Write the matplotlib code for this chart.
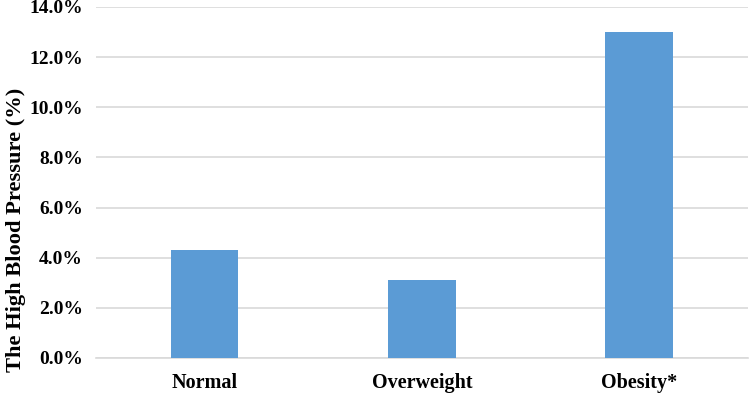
import matplotlib
matplotlib.use("Agg")
import matplotlib.pyplot as plt
from matplotlib.ticker import FuncFormatter

categories = ["Normal", "Overweight", "Obesity*"]
values = [4.3, 3.1, 13.0]
yticks = [0, 2, 4, 6, 8, 10, 12, 14]

plt.rcParams['font.family'] = ['Liberation Serif', 'DejaVu Serif']

fig = plt.figure(figsize=(7.5, 3.94), dpi=100)
ax = fig.add_axes([0.128, 0.0914, 0.869, 0.891])
x = list(range(len(categories)))
ax.bar(x, values, width=0.31, color="#5B9BD5", zorder=3)
ax.set_xlim(-0.5, 2.5)
ax.set_ylim(0, 14)
ax.set_yticks(yticks)
ax.yaxis.set_major_formatter(FuncFormatter(lambda v, p: f"{v:.1f}%"))
ax.set_xticks(x)
ax.set_xticklabels(categories)
for lab in ax.get_yticklabels():
    lab.set_fontweight("bold")
    lab.set_fontsize(14)
for lab in ax.get_xticklabels():
    lab.set_fontweight("bold")
    lab.set_fontsize(14.5)
ax.tick_params(axis='both', length=0)
ax.tick_params(axis='y', pad=9.5)
ax.tick_params(axis='x', pad=11)
ax.grid(axis='y', color="#D9D9D9", linewidth=1.2, zorder=0)
for s in ["top", "right", "left"]:
    ax.spines[s].set_visible(False)
ax.spines["bottom"].set_color("#D9D9D9")
ax.spines["bottom"].set_linewidth(1.2)
ax.set_ylabel("The High Blood Pressure (%)", fontsize=16.2, fontweight="bold")
ax.yaxis.set_label_coords(-0.108, 0.365)
fig.savefig("out.png", dpi=100)
